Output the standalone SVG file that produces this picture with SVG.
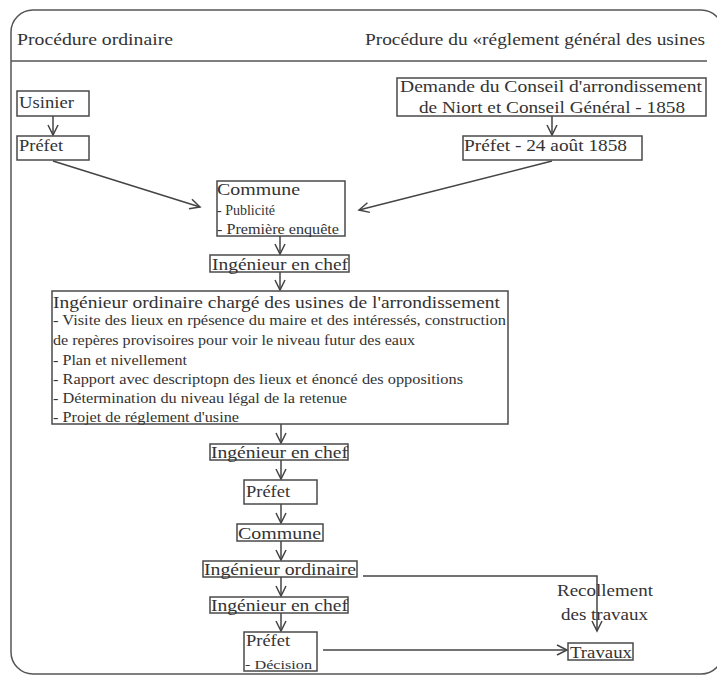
<svg xmlns="http://www.w3.org/2000/svg" width="717" height="677" viewBox="0 0 717 677">
<style>
  text { font-family: "Liberation Serif", "DejaVu Serif", serif; fill: #333; }
  .big { font-size: 17px; }
  .sm { font-size: 14px; }
  .xs { font-size: 12px; }
  .box { fill: #fff; stroke: #4a4a4a; stroke-width: 1.5; }
  .frame { fill: none; stroke: #555; stroke-width: 1.5; }
  .conn { fill: none; stroke: #444; stroke-width: 1.5; }
</style>
<defs>
  <marker id="arr" markerUnits="userSpaceOnUse" markerWidth="14" markerHeight="14" refX="11" refY="6" orient="auto">
    <path d="M1,1 L11,6 L1,11" fill="none" stroke="#444" stroke-width="1.5"/>
  </marker>
</defs>
<rect width="717" height="677" fill="#fff"/>
<g id="frame">
  <rect class="frame" x="11" y="10" width="712" height="664" rx="22"/>
  <line class="frame" x1="11" y1="61" x2="707" y2="61"/>
  <text class="big" x="17" y="45" textLength="156" lengthAdjust="spacingAndGlyphs">Procédure ordinaire</text>
  <text class="big" x="365" y="45" textLength="340" lengthAdjust="spacingAndGlyphs">Procédure du «réglement général des usines</text>
</g>
<g id="connectors">
  <line class="conn" x1="53" y1="116" x2="53" y2="135" marker-end="url(#arr)"/>
  <line class="conn" x1="552" y1="116" x2="552" y2="135" marker-end="url(#arr)"/>
  <line class="conn" x1="53" y1="161" x2="200" y2="207" marker-end="url(#arr)"/>
  <line class="conn" x1="552" y1="161" x2="359" y2="210" marker-end="url(#arr)"/>
  <line class="conn" x1="280" y1="236" x2="280" y2="254" marker-end="url(#arr)"/>
  <line class="conn" x1="280" y1="272" x2="280" y2="290" marker-end="url(#arr)"/>
  <line class="conn" x1="281" y1="424" x2="281" y2="443" marker-end="url(#arr)"/>
  <line class="conn" x1="281" y1="460" x2="281" y2="479" marker-end="url(#arr)"/>
  <line class="conn" x1="281" y1="504" x2="281" y2="523" marker-end="url(#arr)"/>
  <line class="conn" x1="281" y1="541" x2="281" y2="560" marker-end="url(#arr)"/>
  <line class="conn" x1="281" y1="577" x2="281" y2="596" marker-end="url(#arr)"/>
  <line class="conn" x1="281" y1="613" x2="281" y2="631" marker-end="url(#arr)"/>
  <polyline class="conn" points="363,576 597,576 597,631" marker-end="url(#arr)"/>
  <line class="conn" x1="323" y1="650" x2="567" y2="650" marker-end="url(#arr)"/>
</g>
<g id="usinier">
  <rect class="box" x="17" y="91" width="72" height="25"/>
  <text class="big" x="19" y="108" textLength="55" lengthAdjust="spacingAndGlyphs">Usinier</text>
</g>
<g id="prefet1">
  <rect class="box" x="17" y="136" width="72" height="24"/>
  <text class="big" x="19" y="151" textLength="44" lengthAdjust="spacingAndGlyphs">Préfet</text>
</g>
<g id="demande">
  <rect class="box" x="397" y="78" width="309" height="38"/>
  <text class="big" x="400" y="92" textLength="302" lengthAdjust="spacingAndGlyphs">Demande du Conseil d'arrondissement</text>
  <text class="big" x="419" y="113" textLength="266" lengthAdjust="spacingAndGlyphs">de Niort et Conseil Général - 1858</text>
</g>
<g id="prefet-1858">
  <rect class="box" x="463" y="136" width="179" height="24"/>
  <text class="big" x="464" y="151" textLength="163" lengthAdjust="spacingAndGlyphs">Préfet - 24 août 1858</text>
</g>
<g id="commune1">
  <rect class="box" x="217" y="181" width="128" height="55"/>
  <text class="big" x="217" y="195" textLength="83" lengthAdjust="spacingAndGlyphs">Commune</text>
  <text class="sm" x="217" y="215" textLength="58" lengthAdjust="spacingAndGlyphs">- Publicité</text>
  <text class="sm" x="217" y="234" textLength="122" lengthAdjust="spacingAndGlyphs">- Première enquête</text>
</g>
<g id="ingchef1">
  <rect class="box" x="210" y="255" width="139" height="17"/>
  <text class="big" x="212" y="270" textLength="136" lengthAdjust="spacingAndGlyphs">Ingénieur en chef</text>
</g>
<g id="ingord-arr">
  <rect class="box" x="52" y="291" width="456" height="133"/>
  <text class="big" x="53" y="308" textLength="447" lengthAdjust="spacingAndGlyphs">Ingénieur ordinaire chargé des usines de l'arrondissement</text>
  <text class="sm" x="53" y="325" textLength="453" lengthAdjust="spacingAndGlyphs">- Visite des lieux en rpésence du maire et des intéressés, construction</text>
  <text class="sm" x="53" y="345" textLength="362" lengthAdjust="spacingAndGlyphs">de repères provisoires pour voir le niveau futur des eaux</text>
  <text class="sm" x="53" y="365" textLength="134" lengthAdjust="spacingAndGlyphs">- Plan et nivellement</text>
  <text class="sm" x="53" y="384" textLength="410" lengthAdjust="spacingAndGlyphs">- Rapport avec descriptopn des lieux  et énoncé des oppositions</text>
  <text class="sm" x="53" y="403" textLength="294" lengthAdjust="spacingAndGlyphs">- Détermination du niveau légal de la retenue</text>
  <text class="sm" x="53" y="422" textLength="186" lengthAdjust="spacingAndGlyphs">- Projet de réglement d'usine</text>
</g>
<g id="ingchef2">
  <rect class="box" x="210" y="444" width="138" height="16"/>
  <text class="big" x="211" y="458" textLength="137" lengthAdjust="spacingAndGlyphs">Ingénieur en chef</text>
</g>
<g id="prefet2">
  <rect class="box" x="244" y="480" width="73" height="24"/>
  <text class="big" x="246" y="497" textLength="44" lengthAdjust="spacingAndGlyphs">Préfet</text>
</g>
<g id="commune2">
  <rect class="box" x="237" y="524" width="86" height="17"/>
  <text class="big" x="238" y="539" textLength="83" lengthAdjust="spacingAndGlyphs">Commune</text>
</g>
<g id="ingord">
  <rect class="box" x="203" y="561" width="154" height="16"/>
  <text class="big" x="204" y="575" textLength="152" lengthAdjust="spacingAndGlyphs">Ingénieur ordinaire</text>
</g>
<g id="ingchef3">
  <rect class="box" x="210" y="597" width="138" height="16"/>
  <text class="big" x="211" y="611" textLength="137" lengthAdjust="spacingAndGlyphs">Ingénieur en chef</text>
</g>
<g id="prefet3">
  <rect class="box" x="244" y="632" width="73" height="39"/>
  <text class="big" x="246" y="646" textLength="44" lengthAdjust="spacingAndGlyphs">Préfet</text>
  <text class="xs" x="245" y="669" textLength="67" lengthAdjust="spacingAndGlyphs">- Décision</text>
</g>
<g id="recollement">
  <text class="big" x="557" y="596" textLength="96" lengthAdjust="spacingAndGlyphs">Recollement</text>
  <text class="big" x="561" y="620" textLength="87" lengthAdjust="spacingAndGlyphs">des travaux</text>
</g>
<g id="travaux">
  <rect class="box" x="568" y="643" width="65" height="17"/>
  <text class="big" x="570" y="658" textLength="62" lengthAdjust="spacingAndGlyphs">Travaux</text>
</g>
</svg>
